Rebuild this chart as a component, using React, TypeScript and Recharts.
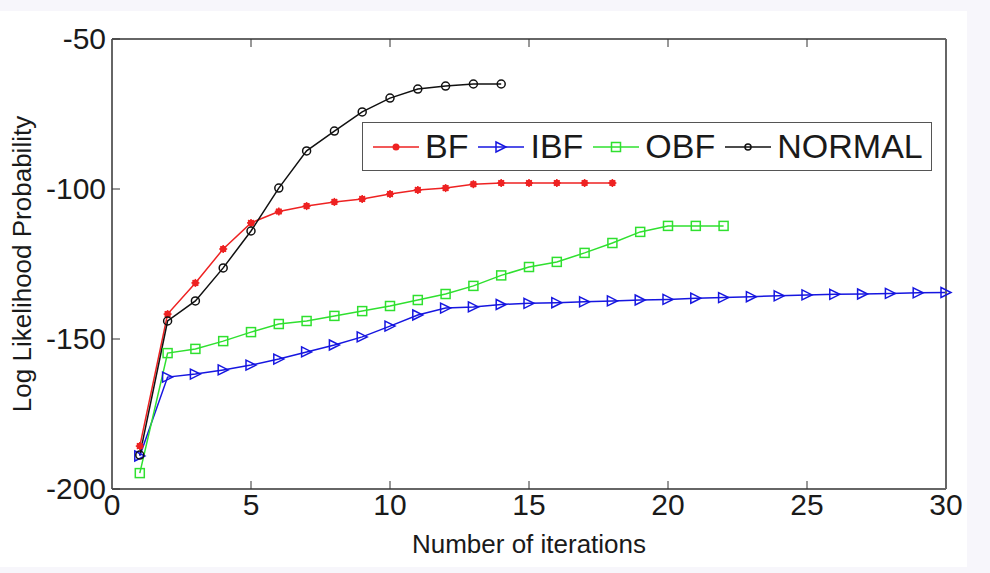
import React from 'react';
import { LineChart, Line, XAxis, YAxis, Legend, ReferenceLine } from 'recharts';

// iterations 1..30
const iterations = [1, 2, 3, 4, 5, 6, 7, 8, 9, 10, 11, 12, 13, 14, 15, 16, 17, 18, 19, 20, 21, 22, 23, 24, 25, 26, 27, 28, 29, 30];

const bf = [-185.7, -141.7, -131.3, -120, -111.3, -107.5, -105.7, -104.3, -103.3, -101.7, -100.3, -99.7, -98.4, -98, -98, -98, -98, -98];
const ibf = [-189, -162.7, -161.7, -160.3, -158.7, -156.7, -154.3, -152, -149.3, -145.7, -142, -139.7, -139.3, -138.5, -138.1, -137.9, -137.6, -137.3, -137, -136.8, -136.4, -136.2, -135.9, -135.6, -135.3, -135.1, -135, -134.8, -134.6, -134.5];
const obf = [-194.7, -154.7, -153.3, -150.7, -147.7, -145, -144, -142.3, -140.7, -139, -137, -135, -132.3, -128.8, -126, -124.3, -121.3, -118, -114.3, -112.3, -112.3, -112.3];
const normal = [-188.7, -144, -137.3, -126.3, -114, -99.7, -87.3, -80.7, -74.3, -69.7, -66.7, -65.7, -65, -65];

const xTicks = [0, 5, 10, 15, 20, 25, 30];
const yTicks = [-200, -150, -100, -50];

const table = iterations.map((it, i) => ({
  it,
  BF: bf[i],
  IBF: ibf[i],
  OBF: obf[i],
  NORMAL: normal[i],
}));

const FONT = '"Liberation Sans", Arial, sans-serif';
const RED = '#ee2222';
const BLUE = '#1616e0';
const GREEN = '#2fe02f';
const BLACK = '#111111';
const AXIS = '#666666';
const TXT = '#1a1a1a';

type Kind = 'star' | 'tri' | 'square' | 'circle';

const drawMarker = (kind: Kind, color: string, cx: number, cy: number, key?: string | number) => {
  if (kind === 'star') {
    const r = 4;
    return (
      <g key={key} stroke={color} strokeWidth={1.5}>
        <line x1={cx - r} y1={cy} x2={cx + r} y2={cy} />
        <line x1={cx} y1={cy - r} x2={cx} y2={cy + r} />
        <line x1={cx - r * 0.7} y1={cy - r * 0.7} x2={cx + r * 0.7} y2={cy + r * 0.7} />
        <line x1={cx - r * 0.7} y1={cy + r * 0.7} x2={cx + r * 0.7} y2={cy - r * 0.7} />
        <circle cx={cx} cy={cy} r={2.5} fill={color} />
      </g>
    );
  }
  if (kind === 'tri') {
    const s = 5;
    return (
      <polygon key={key} points={`${cx - s},${cy - s} ${cx + s},${cy} ${cx - s},${cy + s}`} fill="none" stroke={color} strokeWidth={1.5} />
    );
  }
  if (kind === 'square') {
    const s = 4.5;
    return <rect key={key} x={cx - s} y={cy - s} width={s * 2} height={s * 2} fill="none" stroke={color} strokeWidth={1.5} />;
  }
  return <circle key={key} cx={cx} cy={cy} r={4} fill="none" stroke={color} strokeWidth={1.5} />;
};

const makeDot = (kind: Kind, color: string) => (props: any) => {
  const { cx, cy, index, value } = props;
  if (cx == null || cy == null || value == null) return <g key={`e-${index}`} />;
  return drawMarker(kind, color, cx, cy, `d-${index}`);
};

const series = [
  { key: 'BF', color: RED, kind: 'star' as Kind },
  { key: 'IBF', color: BLUE, kind: 'tri' as Kind },
  { key: 'OBF', color: GREEN, kind: 'square' as Kind },
  { key: 'NORMAL', color: BLACK, kind: 'circle' as Kind },
];

// tick labels drawn outside while the mirrored tick marks point inward
const BottomTick = (props: any) => {
  const { x, y, payload } = props;
  return (
    <text x={x} y={y + 8 + 26} textAnchor="middle" fill={TXT} fontSize={30} fontFamily={FONT}>
      {payload.value}
    </text>
  );
};

const LeftTick = (props: any) => {
  const { x, y, payload } = props;
  return (
    <text x={x - 8 - 6} y={y + 10} textAnchor="end" fill={TXT} fontSize={30} fontFamily={FONT}>
      {payload.value}
    </text>
  );
};

const NoTick = () => <g />;

const LegendBox = () => (
  <div
    style={{
      width: 570,
      height: 49,
      border: '1.5px solid #555',
      background: '#fff',
      display: 'flex',
      alignItems: 'center',
      paddingLeft: 9,
      boxSizing: 'border-box',
      fontFamily: FONT,
      fontSize: 34,
      color: TXT,
    }}
  >
    {series.map((s) => (
      <div key={s.key} style={{ display: 'flex', alignItems: 'center', marginRight: 9 }}>
        <svg width={48} height={20} style={{ marginRight: 5 }}>
          <line x1={1} y1={10} x2={47} y2={10} stroke={s.color} strokeWidth={1.5} />
          {s.kind === 'star' ? (
            <circle cx={24} cy={10} r={3.5} fill={s.color} />
          ) : s.kind === 'circle' ? (
            <circle cx={24} cy={10} r={3} fill="none" stroke={s.color} strokeWidth={1.5} />
          ) : (
            drawMarker(s.kind, s.color, 24, 10)
          )}
        </svg>
        <span>{s.key}</span>
      </div>
    ))}
  </div>
);

const App = () => {
  return (
    <div style={{ position: 'absolute', left: 0, top: 0, width: 990, height: 573, background: '#f7f6fb' }}>
      <div style={{ position: 'absolute', left: 0, top: 11, width: 967, height: 556, background: '#ffffff' }} />
      <div style={{ position: 'absolute', left: 0, top: 0 }}>
        <LineChart width={990} height={573} data={table} margin={{ top: 39, right: 44, bottom: 84, left: 112 }}>
          <XAxis
            xAxisId="b"
            dataKey="it"
            type="number"
            domain={[0, 30]}
            ticks={xTicks}
            mirror
            height={30}
            stroke={AXIS}
            strokeWidth={2}
            tickSize={8}
            tickMargin={0}
            tick={BottomTick}
            tickLine={{ stroke: '#333', strokeWidth: 1 }}
            label={{ value: 'Number of iterations', position: 'bottom', offset: 46, fill: TXT, fontSize: 26, fontFamily: FONT }}
          />
          <XAxis
            xAxisId="t"
            dataKey="it"
            type="number"
            orientation="top"
            domain={[0, 30]}
            ticks={xTicks}
            mirror
            height={30}
            stroke={AXIS}
            strokeWidth={2}
            tickSize={8}
            tick={NoTick}
            tickLine={{ stroke: '#333', strokeWidth: 1 }}
          />
          <YAxis
            yAxisId="l"
            type="number"
            domain={[-200, -50]}
            ticks={yTicks}
            mirror
            width={60}
            stroke={AXIS}
            strokeWidth={2}
            tickSize={8}
            tickMargin={0}
            tick={LeftTick}
            tickLine={{ stroke: '#333', strokeWidth: 1 }}
            label={{
              value: 'Log Likelihood Probability',
              angle: -90,
              position: 'insideLeft',
              offset: -90,
              fill: TXT,
              fontSize: 26,
              fontFamily: FONT,
              style: { textAnchor: 'middle' },
            }}
          />
          <YAxis
            yAxisId="r"
            type="number"
            orientation="right"
            domain={[-200, -50]}
            ticks={yTicks}
            mirror
            width={60}
            stroke={AXIS}
            strokeWidth={2}
            tickSize={8}
            tick={NoTick}
            tickLine={{ stroke: '#333', strokeWidth: 1 }}
          />
          <ReferenceLine xAxisId="b" yAxisId="l" y={-50} stroke={AXIS} strokeWidth={2} />
          <ReferenceLine xAxisId="b" yAxisId="l" x={30} stroke={AXIS} strokeWidth={2} />
          {series.map((s) => (
            <Line
              key={s.key}
              xAxisId="b"
              yAxisId="l"
              dataKey={s.key}
              name={s.key}
              stroke={s.color}
              strokeWidth={1.5}
              dot={makeDot(s.kind, s.color)}
              activeDot={false}
              isAnimationActive={false}
            />
          ))}
          <Legend
            layout="horizontal"
            verticalAlign="middle"
            align="center"
            content={() => <LegendBox />}
            wrapperStyle={{ position: 'absolute', left: 362, top: 122, width: 570, height: 49 }}
          />
        </LineChart>
      </div>
    </div>
  );
};

export default App;
